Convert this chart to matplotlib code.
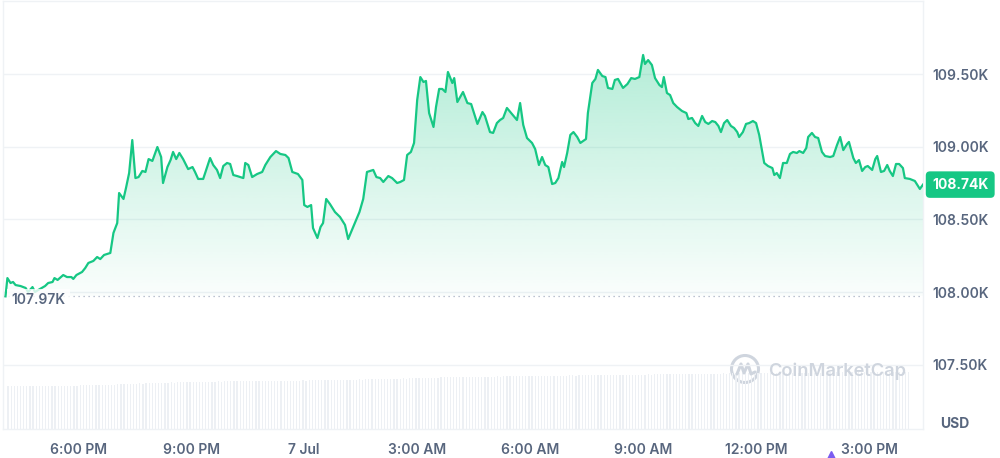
import numpy as np
import pandas as pd
import matplotlib
matplotlib.use("Agg")
import matplotlib.pyplot as plt
import matplotlib.dates as mdates
from matplotlib.patches import Circle
from matplotlib.lines import Line2D

plt.rcParams['font.family'] = ['Inter', 'DejaVu Sans']

# price series, minutes after 2025-07-06 16:00
start = pd.Timestamp("2025-07-06 16:00")
minutes = [4, 7, 12, 16, 20, 28, 36, 40, 47, 51,
           59, 67, 72, 79, 82, 87, 96, 102, 109, 112,
           117, 126, 131, 136, 144, 150, 155, 161, 171, 176,
           182, 185, 192, 196, 201, 206, 211, 216, 222, 227,
           232, 238, 246, 252, 255, 262, 267, 271, 276, 281,
           287, 295, 302, 306, 311, 319, 330, 335, 341, 346,
           351, 357, 362, 367, 373, 383, 386, 391, 397, 405,
           413, 418, 426, 435, 442, 450, 455, 461, 470, 477,
           480, 485, 491, 494, 501, 506, 510, 515, 521, 529,
           537, 545, 550, 558, 568, 574, 580, 590, 595, 601,
           606, 614, 620, 628, 633, 639, 644, 650, 655, 660,
           665, 670, 674, 679, 686, 690, 695, 700, 705, 709,
           716, 719, 724, 733, 740, 746, 749, 756, 764, 768,
           776, 781, 787, 792, 797, 803, 811, 819, 824, 829,
           835, 843, 848, 854, 859, 864, 869, 875, 880, 885,
           891, 894, 899, 904, 909, 915, 920, 929, 932, 939,
           944, 948, 955, 960, 964, 971, 975, 980, 988, 995,
           1001, 1007, 1014, 1020, 1023, 1028, 1034, 1039, 1046, 1050,
           1053, 1058, 1063, 1068, 1074, 1082, 1089, 1092, 1098, 1103,
           1108, 1114, 1119, 1124, 1130, 1135, 1140, 1144, 1149, 1154,
           1160, 1165, 1170, 1173, 1179, 1184, 1189, 1195, 1200, 1205,
           1213, 1219, 1226, 1229, 1233, 1238, 1243, 1249, 1254, 1259,
           1265, 1269, 1275, 1280, 1283, 1289, 1294, 1299, 1305, 1310,
           1318, 1323, 1329, 1334, 1339, 1345, 1348, 1355, 1359, 1364,
           1369, 1374, 1378, 1385, 1390, 1393, 1399, 1404, 1409, 1413,
           1418, 1423, 1428, 1434, 1437, 1445, 1453, 1461, 1466]
price = [107970, 108096, 108062, 108069, 108048, 108041, 108028, 108000, 108034, 108000,
         108021, 108041, 108062, 108069, 108096, 108083, 108117, 108103, 108103, 108090,
         108117, 108138, 108165, 108200, 108214, 108241, 108227, 108255, 108269, 108407,
         108475, 108682, 108641, 108717, 108820, 109047, 108785, 108792, 108834, 108827,
         108916, 108903, 108999, 108930, 108751, 108861, 108909, 108965, 108916, 108958,
         108916, 108847, 108861, 108827, 108779, 108779, 108923, 108875, 108841, 108785,
         108868, 108889, 108882, 108806, 108799, 108785, 108889, 108875, 108792, 108813,
         108827, 108875, 108930, 108971, 108951, 108944, 108923, 108827, 108813, 108772,
         108599, 108586, 108599, 108441, 108372, 108448, 108475, 108641, 108606, 108551,
         108517, 108462, 108365, 108448, 108551, 108641, 108827, 108841, 108792, 108785,
         108758, 108799, 108785, 108751, 108758, 108772, 108944, 108965, 109027, 109323,
         109481, 109447, 109454, 109233, 109137, 109275, 109399, 109399, 109378, 109516,
         109440, 109474, 109309, 109378, 109302, 109295, 109254, 109158, 109240, 109213,
         109102, 109096, 109164, 109185, 109199, 109268, 109226, 109185, 109302, 109151,
         109061, 109027, 108985, 108875, 108930, 108875, 108861, 108744, 108751, 108785,
         108896, 108861, 108958, 109082, 109102, 109068, 109027, 109054, 109233, 109440,
         109468, 109530, 109488, 109481, 109406, 109399, 109461, 109468, 109406, 109433,
         109474, 109468, 109481, 109633, 109571, 109598, 109564, 109474, 109426, 109412,
         109481, 109371, 109357, 109302, 109275, 109247, 109233, 109192, 109199, 109164,
         109144, 109213, 109171, 109158, 109178, 109171, 109144, 109102, 109164, 109185,
         109144, 109130, 109102, 109068, 109102, 109158, 109164, 109178, 109164, 109082,
         108889, 108868, 108854, 108806, 108820, 108785, 108889, 108889, 108951, 108965,
         108958, 108971, 108958, 108992, 109068, 109096, 109068, 109061, 108965, 108937,
         108930, 108937, 109013, 109068, 108978, 109020, 109034, 108923, 108889, 108909,
         108834, 108861, 108868, 108841, 108916, 108937, 108827, 108834, 108875, 108834,
         108799, 108882, 108882, 108854, 108785, 108779, 108765, 108710, 108740]
open_price = 107970
last_price = 108740

# 24h volume (billions USD), one bar every 5 minutes
vol_start = pd.Timestamp("2025-07-06 16:08")
volume = [34.4, 34.5, 34.3, 34.4, 34.4, 34.6, 34.5, 34.4, 34.3, 34.5, 34.4, 34.4,
          34.5, 34.4, 34.6, 34.5, 34.5, 34.7, 34.6, 34.6, 34.8, 34.7, 34.9, 35.0,
          35.1, 35.0, 35.2, 35.3, 35.2, 35.4, 35.5, 35.4, 35.6, 35.7, 35.6, 35.8,
          35.9, 36.0, 36.2, 36.1, 36.3, 36.4, 36.6, 36.5, 36.7, 36.8, 36.9, 37.0,
          37.1, 37.2, 37.1, 37.3, 37.4, 37.3, 37.5, 37.6, 37.5, 37.7, 37.6, 37.8,
          37.8, 37.9, 37.8, 38.0, 37.9, 38.1, 38.0, 38.2, 38.1, 38.2, 38.3, 38.2,
          38.3, 38.2, 38.4, 38.3, 38.4, 38.3, 38.5, 38.4, 38.5, 38.4, 38.6, 38.5,
          38.6, 38.5, 38.7, 38.6, 38.7, 38.8, 38.7, 38.8, 38.9, 38.8, 39.0, 38.9,
          39.0, 39.1, 39.0, 39.2, 39.1, 39.3, 39.2, 39.4, 39.3, 39.4, 39.5, 39.4,
          39.5, 39.6, 39.7, 39.6, 39.8, 39.7, 39.9, 39.8, 40.0, 39.9, 40.1, 40.0,
          40.2, 40.1, 40.3, 40.4, 40.3, 40.5, 40.6, 40.5, 40.7, 40.8, 40.7, 40.9,
          41.0, 41.1, 41.0, 41.2, 41.3, 41.2, 41.4, 41.5, 41.4, 41.6, 41.5, 41.7,
          41.8, 41.7, 41.9, 41.8, 42.0, 41.9, 42.1, 42.0, 42.1, 42.2, 42.1, 42.2,
          42.3, 42.2, 42.4, 42.3, 42.4, 42.5, 42.4, 42.5, 42.6, 42.5, 42.6, 42.7,
          42.7, 42.8, 42.7, 42.8, 42.9, 42.8, 42.9, 43.0, 42.9, 43.0, 43.0, 43.1,
          43.1, 43.0, 43.2, 43.1, 43.2, 43.3, 43.2, 43.3, 43.4, 43.3, 43.4, 43.4,
          43.5, 43.4, 43.5, 43.6, 43.5, 43.6, 43.7, 43.6, 43.7, 43.8, 43.7, 43.8,
          43.9, 43.8, 43.9, 44.0, 43.9, 44.0, 44.1, 44.0, 44.1, 44.2, 44.1, 44.2,
          44.3, 44.2, 44.3, 44.4, 44.3, 44.4, 44.5, 44.4, 44.5, 44.6, 44.5, 44.6,
          44.7, 44.6, 44.7, 44.8, 44.7, 44.8, 44.9, 44.8, 44.9, 45.0, 44.9, 45.0,
          45.0, 45.1, 45.0, 45.1, 45.2, 45.1, 45.2, 45.1, 45.2, 45.3, 45.2, 45.3,
          45.3, 45.2, 45.3, 45.4, 45.3, 45.4, 45.3, 45.4, 45.5, 45.4, 45.5, 45.4,
          45.5, 45.4, 45.5, 45.6, 45.5, 45.6, 45.5, 45.6, 45.7, 45.6, 45.7, 45.6,
          45.7, 45.6, 45.7, 45.8, 45.7, 45.8, 45.7, 45.8, 45.8, 45.7, 45.8, 45.9]

y_ticks = [107500, 108000, 108500, 109000, 109500]
y_labels = ["107.50K", "108.00K", "108.50K", "109.00K", "109.50K"]
x_ticks = ["2025-07-06 18:00", "2025-07-06 21:00", "2025-07-07 00:00", "2025-07-07 03:00",
           "2025-07-07 06:00", "2025-07-07 09:00", "2025-07-07 12:00", "2025-07-07 15:00"]
x_labels = ["6:00 PM", "9:00 PM", "7 Jul", "3:00 AM", "6:00 AM", "9:00 AM", "12:00 PM", "3:00 PM"]

green = "#16c784"
grey = "#58667e"
line_grey = "#eff2f5"

t = mdates.date2num(start + pd.to_timedelta(minutes, unit="min"))
tv = mdates.date2num(vol_start + pd.to_timedelta(np.arange(len(volume)) * 5, unit="min"))

fig = plt.figure(figsize=(10, 4.58), dpi=100)
ax = fig.add_axes([0.003, 0.0633, 0.92, 0.9345])
ax2 = ax.twinx()
ax.set_zorder(2)
ax2.set_zorder(1)
ax.patch.set_visible(False)

# volume bars
ax2.bar(tv, volume, width=2 / 1440, color="#edf0f4", linewidth=0)
ax2.set_ylim(0, 344)
ax2.axis("off")

# gradient area under the price
top = max(price)
grad = np.zeros((256, 1, 4))
grad[..., :3] = matplotlib.colors.to_rgb(green)
grad[:, 0, 3] = np.linspace(0.02, 0.32, 256)
im = ax.imshow(grad, extent=[t[0], t[-1], open_price, top], origin="lower",
               aspect="auto", zorder=1, interpolation="bilinear")
poly = ax.fill_between(t, price, open_price, color="none", lw=0)
im.set_clip_path(poly.get_paths()[0], transform=ax.transData)

ax.axhline(open_price, color="#a6b0c3", lw=0.9, ls=(0, (1, 3)), zorder=2)
ax.plot(t, price, color=green, lw=1.6, zorder=3, solid_joinstyle="round")

ax.set_xlim(mdates.date2num(start), mdates.date2num(start + pd.Timedelta(minutes=1466)))
ax.set_ylim(107056, 110005)

ax.yaxis.tick_right()
ax.set_yticks(y_ticks)
ax.set_yticklabels(y_labels, fontweight=600)
ax.set_xticks(mdates.date2num(pd.to_datetime(x_ticks)))
ax.set_xticklabels(x_labels, fontweight=600)
ax.tick_params(axis="y", length=0, pad=6.5, labelsize=10, labelcolor=grey)
ax.tick_params(axis="x", length=0, pad=10, labelsize=10, labelcolor=grey)
ax.grid(axis="y", color=line_grey, lw=1)
ax.set_axisbelow(True)
for s in ax.spines.values():
    s.set_color(line_grey)
    s.set_linewidth(1)

ax.annotate(f"{open_price / 1000:.2f}K", xy=(0, open_price), xycoords=("axes fraction", "data"),
            xytext=(6, -2.5), textcoords="offset points", ha="left", va="center",
            fontsize=10, fontweight=600, color=grey, zorder=4,
            bbox=dict(boxstyle="square,pad=0.3", fc="white", ec="none", alpha=0.8))
ax.annotate(f"{last_price / 1000:.2f}K", xy=(1, last_price), xycoords=("axes fraction", "data"),
            xytext=(6.5, 0), textcoords="offset points", ha="left", va="center",
            fontsize=10, fontweight="bold", color="white", annotation_clip=False,
            bbox=dict(boxstyle="round,pad=0.45,rounding_size=0.3", fc=green, ec="none"))

fig.text(0.955, 1 - 423.5 / 458, "USD", ha="center", va="center",
         fontsize=10, fontweight="bold", color=grey)

# watermark
wm = "#cfd5de"
fig.text(0.768, 1 - 371 / 458, "CoinMarketCap", ha="left", va="center",
         fontsize=13.2, fontweight=600, color=wm)
fig.add_artist(Circle((7.45, 0.89), 0.135, transform=fig.dpi_scale_trans,
                      fill=False, ec=wm, lw=2.2))
zx = [-8, -4, -1, 3, 6, 10]
zy = [5, -5, 4, -5, 5, 3]
fig.add_artist(Line2D([7.45 + v / 100 for v in zx], [0.89 - v / 100 for v in zy],
                      transform=fig.dpi_scale_trans, color=wm, lw=2.2,
                      solid_joinstyle="round", solid_capstyle="round"))
fig.add_artist(Line2D([8.31], [0.02], transform=fig.dpi_scale_trans, marker="^",
                      markersize=7, color="#7b5cf0", lw=0))

fig.savefig("out.png", dpi=100)
